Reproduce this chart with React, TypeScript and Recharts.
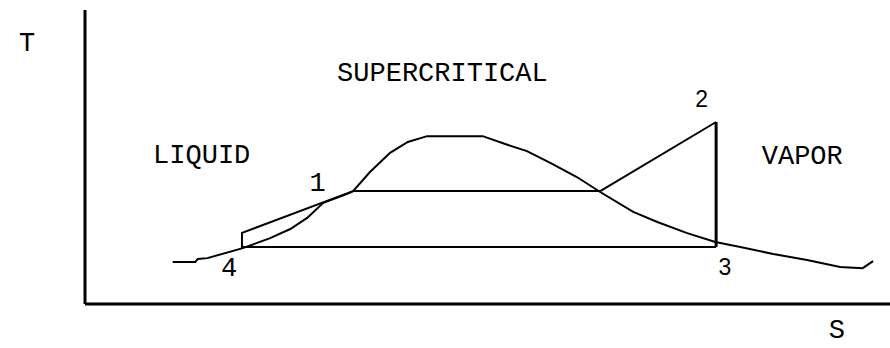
import React from "react";
import { LineChart, Line, XAxis, YAxis, ReferenceLine, ReferenceDot } from "recharts";

// Saturation dome (entropy S, temperature T)
const domeS = [10.9, 13.7, 14.0, 15.2, 19.6, 23.0, 25.5, 27.6, 29.6, 32.5, 33.3, 35.4, 37.9, 40.1, 42.5, 49.4, 52.2, 54.9, 57.8, 61.1, 64.0, 68.1, 71.1, 74.8, 78.3, 81.4, 85.5, 89.7, 93.8, 96.6, 97.9];
const domeT = [14.3, 14.3, 15.3, 15.6, 19.0, 22.4, 25.5, 29.3, 34.4, 37.4, 38.4, 44.9, 51.4, 55.1, 57.1, 57.1, 54.4, 52.0, 48.0, 43.2, 38.1, 31.3, 27.9, 24.1, 21.1, 19.4, 17.0, 15.0, 12.6, 12.2, 14.6];

// Cycle legs
const pumpS = [19.5, 19.5, 33.3];
const pumpT = [19.0, 24.2, 38.4];
const boilS = [33.3, 64.0];
const boilT = [38.4, 38.4];
const superS = [64.0, 78.4];
const superT = [38.4, 61.9];
const expandS = [78.4, 78.4];
const expandT = [61.9, 19.4];
const condS = [78.4, 19.5];
const condT = [19.4, 19.4];

// Text annotations
const labelText = ["SUPERCRITICAL", "LIQUID", "VAPOR", "T", "S", "1", "2", "3", "4"];
const labelS = [44.4, 14.5, 89.1, -7.2, 93.4, 28.9, 76.6, 79.5, 17.9];
const labelT = [75.9, 48.0, 47.6, 86.0, -11.7, 38.4, 67.0, 9.9, 9.5];
const labelSans = [false, false, false, false, false, false, true, true, false];

const zip = (s: number[], t: number[]) => s.map((v, i) => ({ s: v, t: t[i] }));

const dome = zip(domeS, domeT);
const pump = zip(pumpS, pumpT);
const boil = zip(boilS, boilT);
const superheat = zip(superS, superT);
const expand = zip(expandS, expandT);
const cond = zip(condS, condT);

const mono = "'Liberation Mono', 'DejaVu Sans Mono', monospace";
const sans = "'Liberation Sans', Arial, sans-serif";

export default function App() {
  return (
    <div style={{ position: "absolute", left: 0, top: 0, background: "#fff" }}>
      <LineChart width={890} height={348} margin={{ top: 10, right: 0, bottom: 44, left: 85 }}>
        <XAxis type="number" dataKey="s" domain={[0, 100]} hide allowDataOverflow />
        <YAxis type="number" dataKey="t" domain={[0, 100]} hide allowDataOverflow />
        <ReferenceLine x={0} stroke="#000" strokeWidth={3} />
        <ReferenceLine y={0} stroke="#000" strokeWidth={3} />
        <Line data={dome} dataKey="t" type="linear" stroke="#000" strokeWidth={2} dot={false} isAnimationActive={false} />
        <Line data={pump} dataKey="t" type="linear" stroke="#000" strokeWidth={2} dot={false} isAnimationActive={false} />
        <Line data={boil} dataKey="t" type="linear" stroke="#000" strokeWidth={2} dot={false} isAnimationActive={false} />
        <Line data={superheat} dataKey="t" type="linear" stroke="#000" strokeWidth={2} dot={false} isAnimationActive={false} />
        <Line data={expand} dataKey="t" type="linear" stroke="#000" strokeWidth={3} dot={false} isAnimationActive={false} />
        <Line data={cond} dataKey="t" type="linear" stroke="#000" strokeWidth={2} dot={false} isAnimationActive={false} />
        {labelText.map((txt, i) => (
          <ReferenceDot
            key={txt + i}
            x={labelS[i]}
            y={labelT[i]}
            r={0}
            ifOverflow="visible"
            shape={(p: any) => (
              <text
                x={p.cx}
                y={p.cy}
                textAnchor="middle"
                fontFamily={labelSans[i] ? sans : mono}
                fontSize={labelSans[i] ? 23 : 27}
                fill="#000"
              >
                {txt}
              </text>
            )}
          />
        ))}
      </LineChart>
    </div>
  );
}
